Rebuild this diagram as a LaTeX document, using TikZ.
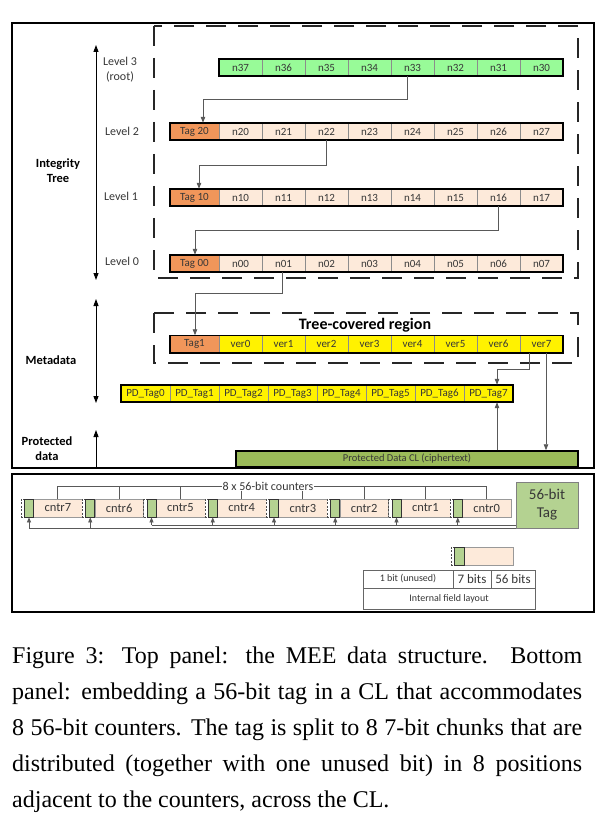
\documentclass[tikz,border=0pt]{standalone}
\usepackage{fontspec}
\setmainfont{Carlito}
\newfontfamily\capfont{Liberation Serif}
\usetikzlibrary{arrows.meta,calc}
\definecolor{lgreen}{RGB}{152,251,152}
\definecolor{tagor}{RGB}{241,150,90}
\definecolor{peach}{RGB}{253,234,218}
\definecolor{olivegr}{RGB}{155,187,89}
\definecolor{sgreen}{RGB}{180,210,145}
\definecolor{txt}{RGB}{55,55,55}
\begin{document}
\begin{tikzpicture}[x=1pt,y=-1pt,
  cell/.style={draw=black!45, inner sep=0pt, minimum height=17pt, minimum width=43pt, font=\fontsize{11}{12}\selectfont, text=txt},
  ncell/.style={cell, fill=peach},
  gcell/.style={cell, fill=lgreen},
  tcell/.style={cell, fill=tagor, minimum width=49pt},
  vcell/.style={cell, fill=yellow},
  pdcell/.style={cell, fill=yellow, minimum width=49pt},
  rowframe/.style={draw=black, line width=1.6pt},
  frame/.style={draw=black, line width=2pt},
  dashbox/.style={draw=black!85, line width=1.6pt, dash pattern=on 20pt off 12pt},
  conn/.style={draw=black!65, line width=0.8pt},
  tip/.style={-{Triangle[length=6pt,width=4.5pt]}},
  tipb/.style={-{Triangle[length=5pt,width=4pt]}},
  bigarrow/.style={draw=black, line width=0.9pt},
  lvl/.style={font=\fontsize{12}{15}\selectfont, text=txt, align=center},
  blab/.style={font=\bfseries\fontsize{12.5}{15}\selectfont, align=center},
  hatch/.style={draw=black!70, dash pattern=on 2pt off 1.5pt, fill=white, inner sep=0pt, minimum width=3.5pt, minimum height=18pt},
  gslot/.style={draw=black!80, line width=0.8pt, fill=sgreen, inner sep=0pt, minimum width=9pt, minimum height=18pt},
  ccell/.style={draw=black!40, fill=peach, inner sep=0pt, minimum width=48.75pt, minimum height=18pt, font=\fontsize{12.5}{14}\selectfont, text=txt},
  tab/.style={draw=black!60, fill=white, inner sep=0pt, text=txt},
  capline/.style={anchor=base west, inner sep=0pt, font=\capfont\fontsize{24}{28}\selectfont}
]
\fill[white] (0,0) rectangle (597,818);
\useasboundingbox (0,0) rectangle (597,818);

% ---------- top panel frames ----------
\draw[frame] (12,23) rectangle (594,468);
\draw[dashbox] (154,26) rectangle (578,278);
\draw[dashbox] (154,313) rectangle (578,363);

% ---------- rows ----------
\foreach \k [count=\i from 0] in {37,36,35,34,33,32,31,30}
  \node[gcell] (n\k) at ({240.5+43*\i},67.5) {n\k};
\node[tcell] (t20) at (194.5,131.5) {Tag 20};
\foreach \k [count=\i from 0] in {20,21,22,23,24,25,26,27}
  \node[ncell] (n\k) at ({240.5+43*\i},131.5) {n\k};
\node[tcell] (t10) at (194.5,197.5) {Tag 10};
\foreach \k [count=\i from 0] in {10,11,12,13,14,15,16,17}
  \node[ncell] (n\k) at ({240.5+43*\i},197.5) {n\k};
\node[tcell] (t00) at (194.5,263.5) {Tag 00};
\foreach \k [count=\i from 0] in {00,01,02,03,04,05,06,07}
  \node[ncell] (n\k) at ({240.5+43*\i},263.5) {n\k};
\node[tcell] (tag1) at (194.5,344) {Tag1};
\foreach \k in {0,...,7}
  \node[vcell] (v\k) at ({240.5+43*\k},344) {ver\k};
\foreach \k in {0,...,7}
  \node[pdcell] (pd\k) at ({145.5+49*\k},393.5) {PD\_Tag\k};

\draw[rowframe] (n37.north west) rectangle (n30.south east);
\draw[rowframe] (t20.north west) rectangle (n27.south east);
\draw[rowframe] (t10.north west) rectangle (n17.south east);
\draw[rowframe] (t00.north west) rectangle (n07.south east);
\draw[rowframe] (tag1.north west) rectangle (v7.south east);
\draw[rowframe] (pd0.north west) rectangle (pd7.south east);

\node[draw=black, line width=1.5pt, fill=olivegr, minimum width=342pt, minimum height=16pt, inner sep=0pt,
      font=\fontsize{10.5}{12}\selectfont, text=txt] (pdcl) at (407,459) {Protected Data CL (ciphertext)};

\node[font=\bfseries\fontsize{16}{19}\selectfont] (tcr) at (365,325) {Tree-covered region};

% ---------- connectors ----------
\draw[conn,tip] ([xshift=-5pt]n33.south) -- ++(0,23) -| ([xshift=8.5pt]t20.north);
\draw[conn,tip] (n22.south) -- ++(0,25) -| ([xshift=4.5pt]t10.north);
\draw[conn,tip] (n16.south) -- ++(0,24) -| ([xshift=0.5pt]t00.north);
\draw[conn,tip] ([xshift=-1.5pt]n01.south) -- ++(0,21) -| ([xshift=0.5pt]tag1.north);
\draw[conn,tip] ([xshift=-12.5pt]v7.south) -- ++(0,17) -| ([xshift=8.5pt]pd7.north);
\draw[conn,tip] ([xshift=4.5pt]v7.south) -- ([xshift=4.5pt]v7.south |- pdcl.north);
\draw[conn,tip] ([xshift=8.5pt]pd7.south |- pdcl.north) -- ([xshift=8.5pt]pd7.south);

% ---------- left labels ----------
\coordinate (itop) at (96,45); \coordinate (ibot) at (96,280);
\coordinate (mtop) at (96,299); \coordinate (mbot) at (96,403);
\coordinate (ptop) at (96,430); \coordinate (pbot) at (96,468);
\draw[bigarrow,{Triangle[length=7pt,width=5pt]}-{Triangle[length=7pt,width=5pt]}] (itop) -- (ibot);
\draw[bigarrow,{Triangle[length=7pt,width=5pt]}-{Triangle[length=7pt,width=5pt]}] (mtop) -- (mbot);
\draw[bigarrow,{Triangle[length=7pt,width=5pt]}-] (ptop) -- (pbot);

\node[lvl] (l3) at (120,69.5) {Level 3\\(root)};
\node[lvl] (l2) at (122,131) {Level 2};
\node[lvl] (l1) at (121,196) {Level 1};
\node[lvl] (l0) at (122,261) {Level 0};
\node[blab] (it) at (58,171) {Integrity\\Tree};
\node[blab] (md) at (51,360) {Metadata};
\node[blab] (pdlab) at (47,449) {Protected\\data};

% ---------- bottom panel ----------
\draw[frame] (12,474) rectangle (594,612);
\foreach \k [count=\i from 0] in {7,6,5,4,3,2,1,0} {
  \pgfmathsetmacro\xo{21+61.25*\i}
  \node[ccell] (c\k) at (\xo+36.875,508) {cntr\k};
  \node[hatch] (h\k) at (\xo+1.75,508) {};
  \node[gslot] (g\k) at (\xo+8,508) {};
}
\coordinate (brk) at (268,486);
\draw[conn] (c7.north) -- (c7.north |- brk) -- (c0.north |- brk) -- (c0.north);
\foreach \k in {6,5,4,3,2,1} \draw[conn] (c\k.north) -- (c\k.north |- brk);
\node[font=\fontsize{12}{14}\selectfont, fill=white, inner sep=1pt, text=txt] (cl) at (brk) {8 x 56-bit counters};

\node[draw=black!50, fill=sgreen, minimum width=62pt, minimum height=46pt, inner sep=0pt, align=center,
      font=\fontsize{15}{18}\selectfont, text=txt] (tagb) at (547,505) {56-bit\\Tag};
\coordinate (hl1) at (0,528); \coordinate (hl2) at (0,525);
\draw[conn] (g7.south |- hl1) -- (tagb.west |- hl1);
\draw[conn] (g5.south |- hl2) -- (tagb.west |- hl2);
\foreach \k in {7,6} \draw[conn,tipb] (g\k.south |- hl1) -- (g\k.south);
\foreach \k in {5,4,3,2,1,0} \draw[conn,tipb] (g\k.south |- hl2) -- (g\k.south);

% field layout
\node[ccell, minimum width=49pt] (fc) at (488.5,556) {};
\node[hatch] (fh) at (452.75,556) {};
\node[gslot, minimum width=9.5pt] (fg) at (459.25,556) {};
\node[tab, minimum width=90pt, minimum height=18pt, font=\fontsize{10}{12}\selectfont] (tb1) at (408,579) {1 bit (unused)};
\node[tab, minimum width=38pt, minimum height=18pt, font=\fontsize{13}{15}\selectfont] (tb2) at (472,579) {7 bits};
\node[tab, minimum width=44pt, minimum height=18pt, font=\fontsize{13}{15}\selectfont] (tb3) at (513,579) {56 bits};
\node[tab, minimum width=172pt, minimum height=21pt, font=\fontsize{10}{12}\selectfont] (tb4) at (449,598.5) {Internal field layout};

% ---------- caption ----------
\node[capline] (cap1) at (12,663) {\makebox[570pt][s]{Figure 3: Top panel: the MEE data structure. Bottom}};
\node[capline] (cap2) at (12,699) {\makebox[570pt][s]{panel: embedding a 56-bit tag in a CL that accommodates}};
\node[capline] (cap3) at (12,735) {\makebox[570pt][s]{8 56-bit counters. The tag is split to 8 7-bit chunks that are}};
\node[capline] (cap4) at (12,771) {\makebox[570pt][s]{distributed (together with one unused bit) in 8 positions}};
\node[capline] (cap5) at (12,807) {adjacent to the counters, across the CL.};
\end{tikzpicture}
\end{document}
